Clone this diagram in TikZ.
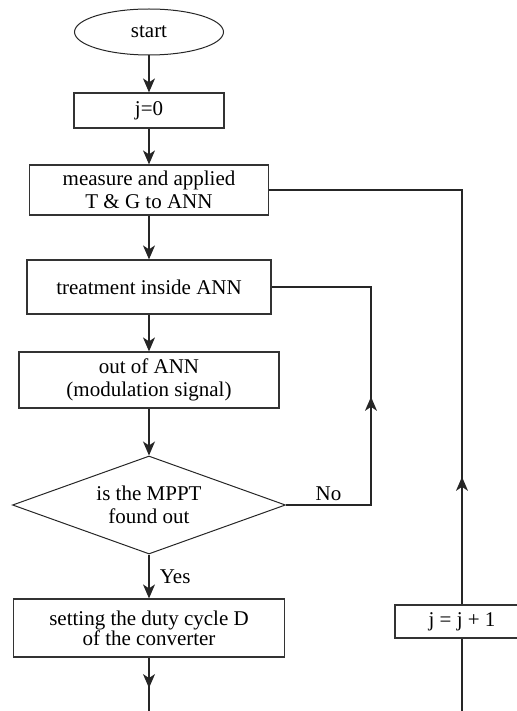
\documentclass[tikz,border=0pt]{standalone}
\usepackage{fontspec}
\setmainfont{Liberation Serif}
\usetikzlibrary{shapes.geometric,arrows.meta,decorations.markings}
\begin{document}
\begin{tikzpicture}
	[x=1pt,y=-1pt,
	box/.style={rectangle,draw=black!80,line width=1.2pt,inner sep=0pt,align=center},
	flow/.style={draw=black!85,line width=1.2pt},
	midarrow/.style={postaction={decorate},decoration={markings,mark=at position #1 with {\arrow{Stealth[length=14pt,width=12pt,inset=4pt]}}}},
	>={Stealth[length=14pt,width=12pt,inset=4pt]},
	font=\fontsize{21}{23}\selectfont]
    \useasboundingbox (0,0) rectangle (516,711);
    \node[ellipse,draw=black!85,line width=1pt,minimum width=149pt,minimum height=46pt,inner sep=0pt] (start) at (149,32) {start};
    \node[box,minimum width=150pt,minimum height=35pt] (j0) at (149,110.5) {j=0};
    \node[box,minimum width=239pt,minimum height=50pt] (meas) at (149,190) {measure and applied\\T \& G to ANN};
    \node[box,minimum width=244pt,minimum height=54pt] (treat) at (149,287) {treatment inside ANN};
    \node[box,minimum width=260pt,minimum height=56pt] (out) at (149,380) {out of ANN\\(modulation signal)};
    \node[diamond,draw=black!85,line width=1pt,align=center,inner sep=0pt,aspect=2.8,minimum width=273pt,minimum height=98pt] (test) at (149,505) {is the MPPT\\found out};
    \node[box,minimum width=271pt,minimum height=58pt,font=\fontsize{21}{19}\selectfont] (set) at (149,628) {setting the duty cycle D\\of the converter};
    \node[box,minimum width=134pt,minimum height=33pt] (inc) at (462,621.5) {j = j + 1};
    \coordinate (end) at (149,711);
    \coordinate (back) at (462,711);
    \draw [flow,->] (start) -- (j0);
    \draw [flow,->] (j0) -- (meas);
    \draw [flow,->] (meas) -- (treat);
    \draw [flow,->] (treat) -- (out);
    \draw [flow,->] (out) -- (test);
    \draw [flow,->] (test) -- node[midway,right=7pt] (yes) {Yes} (set);
    \draw [flow,midarrow=0.57] (set) -- (end);
    \draw [flow,midarrow=0.48] (test.east) -- node[midway,above] (no) {No} ++(85,0) |- (treat.east);
    \draw [flow] (back) -- (inc);
    \draw [flow,midarrow=0.21] (inc.north) |- (meas.east);
\end{tikzpicture}
\end{document}
